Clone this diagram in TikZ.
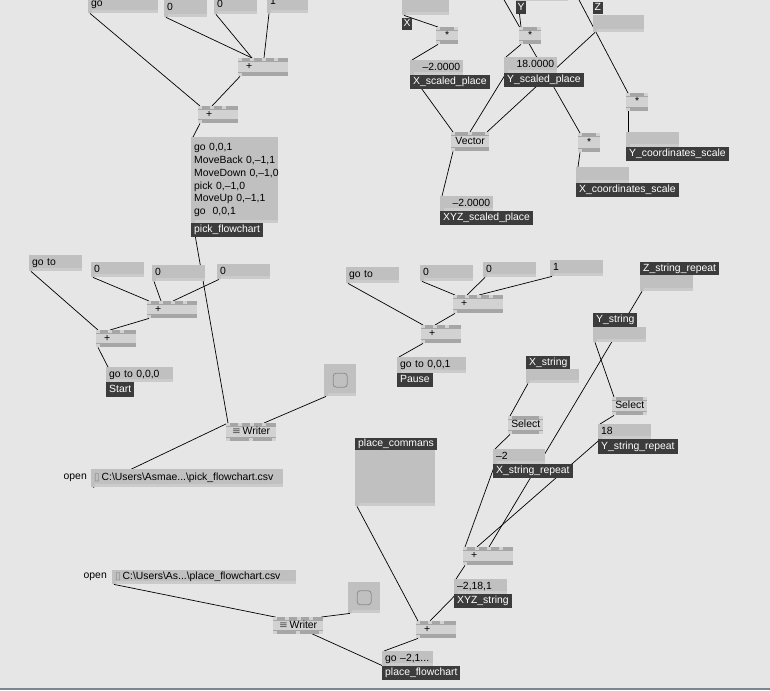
\documentclass[tikz,border=0pt]{standalone}
\usepackage{fontspec}
\setmainfont{Liberation Sans}
\newfontfamily\iconfont{DejaVu Sans}
\usepackage{tikz}
\usetikzlibrary{positioning, calc}
\usepackage{xcolor}

\definecolor{fondo}{HTML}{E6E6E6}
\definecolor{caja}{HTML}{C0C0C0}
\definecolor{cajaclara}{HTML}{CBCBCB}
\definecolor{objeto}{HTML}{D2D2D2}
\definecolor{franja}{HTML}{A6A6A6}
\definecolor{pin}{HTML}{5C5C5C}
\definecolor{etiqueta}{HTML}{3C3C3C}
\definecolor{borde}{HTML}{7D8792}

\pgfdeclarelayer{capafondo}
\pgfdeclarelayer{capacables}
\pgfsetlayers{capafondo,capacables,main}

\begin{document}
\begin{tikzpicture}[
        x=1pt, y=-1pt,
        font=\fontsize{10.4}{12.5}\selectfont,
        wire/.style={black, line width=0.7pt},
        rotulo/.style={inner sep=0pt},
        iobox/.style={fill=caja, anchor=north west, inner xsep=3pt, inner ysep=0pt,
            text width=#1pt-6pt, align=left, minimum height=16pt,
            text height=7.5pt, text depth=2.5pt,
            path picture={
                \fill[cajaclara] (path picture bounding box.south west) rectangle ([yshift=3pt]path picture bounding box.south east);
                \fill[pin] (path picture bounding box.north west) rectangle ++(4pt,-3pt);
                \fill[pin] (path picture bounding box.south west) rectangle ++(4pt,3pt);
            }},
        numbox/.style={iobox=#1, align=right},
        tag/.style={fill=etiqueta, text=white, anchor=north west, inner xsep=3pt, inner ysep=0pt,
            minimum height=14pt, text height=7.5pt, text depth=2.5pt},
        obj/.style n args={3}{fill=objeto, anchor=north west, inner sep=0pt,
            minimum width=#1pt, minimum height=18pt, text height=7.5pt, text depth=2.5pt,
            path picture={
                \fill[franja] (path picture bounding box.north west) rectangle ([yshift=-4pt]path picture bounding box.north east);
                \fill[franja] (path picture bounding box.south west) rectangle ([yshift=4pt]path picture bounding box.south east);
                \foreach \p in {#2}
                    \fill[pin] ([xshift=\p pt]path picture bounding box.north west) rectangle ++(4pt,-3pt);
                \foreach \p in {#3}
                    \fill[pin] ([xshift=\p pt]path picture bounding box.south west) rectangle ++(4pt,3pt);
            }},
        sum/.style n args={2}{obj={#1}{#2}{0}, inner xsep=8pt, text width=#1pt-16pt, align=left},
        mul/.style={obj={22}{0,18}{0}, minimum height=17pt},
        select/.style={obj={35}{0,31}{0,31}},
        writer/.style={obj={50}{0,12,24,36}{0,23,46}},
        bang/.style={fill=caja, anchor=north west, inner sep=0pt, minimum width=32pt, minimum height=32pt,
            path picture={
                \fill[cajaclara] (path picture bounding box.south west) rectangle ([yshift=3pt]path picture bounding box.south east);
                \fill[pin] (path picture bounding box.north west) rectangle ++(4pt,-3pt);
                \fill[pin] (path picture bounding box.south west) rectangle ++(4pt,3pt);
                \draw[black!45, line width=0.8pt, rounded corners=3pt]
                    ([shift={(-7pt,-7pt)}]path picture bounding box.center) rectangle ++(14pt,14pt);
            }}
    ]
        \useasboundingbox (0,0) rectangle (770,690);
        \begin{pgfonlayer}{capafondo}
            \fill[fondo] (0,0) rectangle (770,690);
            \fill[borde] (0,688) rectangle (770,690);
        \end{pgfonlayer}

        % Flujo "pick" (arriba a la izquierda)
        \node[iobox=70, minimum height=19pt] (goTop) at (88,-6) {go};
        \node[iobox=43, minimum height=19pt] (cero1) at (164,-2) {0};
        \node[iobox=43, minimum height=18pt] (cero2) at (214,-4) {0};
        \node[iobox=41, minimum height=23pt] (uno1) at (267,-10) {1};
        \node[sum={50}{0,12,24,36}] (sumaA) at (238,58) {+};
        \node[sum={40}{0,12,24}, minimum height=17pt] (sumaB) at (198,106) {+};
        \node[iobox=87, minimum height=86pt, text height={}, text depth={},
              font=\fontsize{10.4}{12.8}\selectfont] (pickMsg) at (191,137)
            {\mbox{go 0,0,1}\\\mbox{MoveBack 0,--1,1}\\\mbox{MoveDown 0,--1,0}\\\mbox{pick 0,--1,0}\\\mbox{MoveUp 0,--1,1}\\\mbox{go\ \ 0,0,1}};
        \node[tag] (pickTag) at (191,223) {pick\_flowchart};

        % Escalado de coordenadas (arriba a la derecha)
        \node[iobox=47, minimum height=20pt] (xBox) at (402,-5) {};
        \node[tag, inner xsep=1.5pt, minimum height=12pt] (xTag) at (402,18) {X};
        \node[iobox=52] (yBox) at (516,-15) {};
        \node[tag, inner xsep=1.5pt, minimum height=13pt] (yTag) at (516,1) {Y};
        \node[tag, inner xsep=1.5pt, minimum height=12pt] (zTag) at (593,2) {Z};
        \node[iobox=51, minimum height=17pt] (zBox) at (593,15) {};
        \node[mul] (mulX) at (436,27) {*};
        \node[mul] (mulY) at (519,27) {*};
        \node[numbox=53, minimum height=15pt] (xNum) at (410,60) {--2.0000};
        \node[tag] (xScTag) at (410,75) {X\_scaled\_place};
        \node[numbox=53] (yNum) at (504,57) {18.0000};
        \node[tag] (yScTag) at (504,73) {Y\_scaled\_place};
        \node[obj={38}{0,17,34}{0}, minimum height=19pt] (vector) at (451,132) {Vector};
        \node[mul, minimum height=19pt] (mulXc) at (578,133) {*};
        \node[iobox=53] (xcBox) at (576,167) {};
        \node[tag] (xcTag) at (576,183) {X\_coordinates\_scale};
        \node[mul, minimum height=18pt] (mulYc) at (626,93) {*};
        \node[iobox=53, minimum height=15pt] (ycBox) at (626,132) {};
        \node[tag] (ycTag) at (626,147) {Y\_coordinates\_scale};
        \node[numbox=53, minimum height=15pt] (xyzNum) at (440,196) {--2.0000};
        \node[tag] (xyzScTag) at (440,211) {XYZ\_scaled\_place};
        \coordinate (arribaA) at (503,-2);
        \coordinate (arribaB) at (578,-2);

        % Start y escritor "pick"
        \node[iobox=53] (goToA) at (29,255) {go to};
        \node[iobox=53, minimum height=15pt] (ceroA) at (91,262) {0};
        \node[iobox=53] (ceroB) at (152,265) {0};
        \node[iobox=53, minimum height=15pt] (ceroC) at (217,264) {0};
        \node[sum={50}{0,12,24,36}, minimum height=17pt] (sumaC) at (147,301) {+};
        \node[sum={40}{0,12,24}, minimum height=17pt] (sumaD) at (96,330) {+};
        \node[iobox=67, minimum height=15pt] (startMsg) at (106,367) {go to 0,0,0};
        \node[tag, minimum height=15pt] (startTag) at (106,382) {Start};
        \node[writer] (pickWriter) at (226,423) {{\iconfont\color{black!70}≡}\,Writer};
        \node[bang] (pickBang) at (324,364) {};
        \node[iobox=192, minimum height=18pt] (pickOpen) at (91,469)
            {{\iconfont\color{black!45}▯}\,C:\textbackslash Users\textbackslash Asmae...\textbackslash pick\_flowchart.csv};
        \node[rotulo, left=4pt of pickOpen] (pickOpenLbl) {open};

        % Pause
        \node[iobox=53] (goToB) at (346,267) {go to};
        \node[iobox=53] (ceroD) at (420,265) {0};
        \node[iobox=53, minimum height=15pt] (ceroE) at (483,262) {0};
        \node[iobox=53] (unoA) at (550,260) {1};
        \node[sum={50}{0,12,24,36}] (sumaE) at (453,295) {+};
        \node[sum={40}{0,12,24}] (sumaF) at (421,325) {+};
        \node[iobox=69] (pauseMsg) at (397,357) {go to 0,0,1};
        \node[tag] (pauseTag) at (397,373) {Pause};

        % Cadenas X, Y, Z
        \node[tag, minimum height=13pt] (zsTag) at (640,262) {Z\_string\_repeat};
        \node[iobox=53] (zsBox) at (640,275) {};
        \node[tag] (ysTag) at (593,313) {Y\_string};
        \node[iobox=53, minimum height=15pt] (ysBox) at (593,327) {};
        \node[tag, minimum height=13pt] (xsTag) at (526,356) {X\_string};
        \node[iobox=53, minimum height=14pt] (xsBox) at (526,369) {};
        \node[select] (selX) at (508,416) {Select};
        \node[select] (selY) at (612,397) {Select};
        \node[iobox=52, minimum height=15pt] (xsrBox) at (493,449) {--2};
        \node[tag] (xsrTag) at (493,464) {X\_string\_repeat};
        \node[iobox=53, minimum height=15pt] (ysrBox) at (598,424) {18};
        \node[tag, minimum height=15pt] (ysrTag) at (598,439) {Y\_string\_repeat};
        \node[sum={50}{0,12,24,36}] (sumaG) at (463,547) {+};
        \node[iobox=53, minimum height=15pt] (xyzBox) at (454,579) {--2,18,1};
        \node[tag] (xyzTag) at (454,594) {XYZ\_string};

        % Escritor "place" (abajo)
        \node[tag, minimum height=12pt] (pcTag) at (355,438) {place\_commans};
        \node[iobox=80, minimum height=56pt] (pcBox) at (355,450) {};
        \node[sum={40}{0,12,24}, minimum height=17pt] (sumaH) at (416,621) {+};
        \node[iobox=51, minimum height=15pt] (placeMsg) at (382,651) {go --2,1...};
        \node[tag] (placeTag) at (382,666) {place\_flowchart};
        \node[writer, minimum height=17pt] (placeWriter) at (273,617) {{\iconfont\color{black!70}≡}\,Writer};
        \node[bang, minimum height=31pt] (placeBang) at (348,582) {};
        \node[iobox=184, minimum height=14pt] (placeOpen) at (112,570)
            {{\iconfont\color{black!45}▯}\,C:\textbackslash Users\textbackslash As...\textbackslash place\_flowchart.csv};
        \node[rotulo, left=5pt of placeOpen] (placeOpenLbl) {open};

        % Cables (detras de las cajas)
        \begin{pgfonlayer}{capacables}
            \foreach \a/\b/\s in {goTop/sumaB/2, cero1/sumaA/14, cero2/sumaA/14, uno1/sumaA/26,
                    sumaA/sumaB/14, sumaB/pickMsg/2, pickMsg/pickWriter/2,
                    xBox/mulX/2, yBox/mulY/2, mulX/xNum/2, mulY/yNum/2,
                    xNum/vector/2, yNum/vector/19, zBox/vector/36,
                    mulXc/xcBox/2, mulYc/ycBox/2, vector/xyzNum/2,
                    goToA/sumaD/2, ceroA/sumaC/2, ceroB/sumaC/14, ceroC/sumaC/26,
                    sumaC/sumaD/14, sumaD/startMsg/2,
                    pickOpen/pickWriter/2, pickBang/pickWriter/38,
                    goToB/sumaF/2, ceroD/sumaE/2, ceroE/sumaE/14, unoA/sumaE/26,
                    sumaE/sumaF/14, sumaF/pauseMsg/2,
                    zsBox/sumaG/26, ysBox/selY/2, xsBox/selX/2, selX/xsrBox/2, selY/ysrBox/2,
                    xsrBox/sumaG/2, ysrBox/sumaG/14, sumaG/xyzBox/2,
                    xyzBox/sumaH/14, pcBox/sumaH/2, sumaH/placeMsg/2,
                    placeMsg/placeWriter/2, placeOpen/placeWriter/2}
                \draw[wire] ([xshift=2pt]\a.south west) -- ([xshift=\s pt]\b.north west);
            \draw[wire] (arribaA) -- ([xshift=2pt]mulXc.north west);
            \draw[wire] (arribaB) -- ([xshift=2pt]mulYc.north west);
            \draw[wire] ([xshift=2pt]placeBang.south west) -- ([xshift=-2pt]placeWriter.north east);
        \end{pgfonlayer}

    \end{tikzpicture}
\end{document}
